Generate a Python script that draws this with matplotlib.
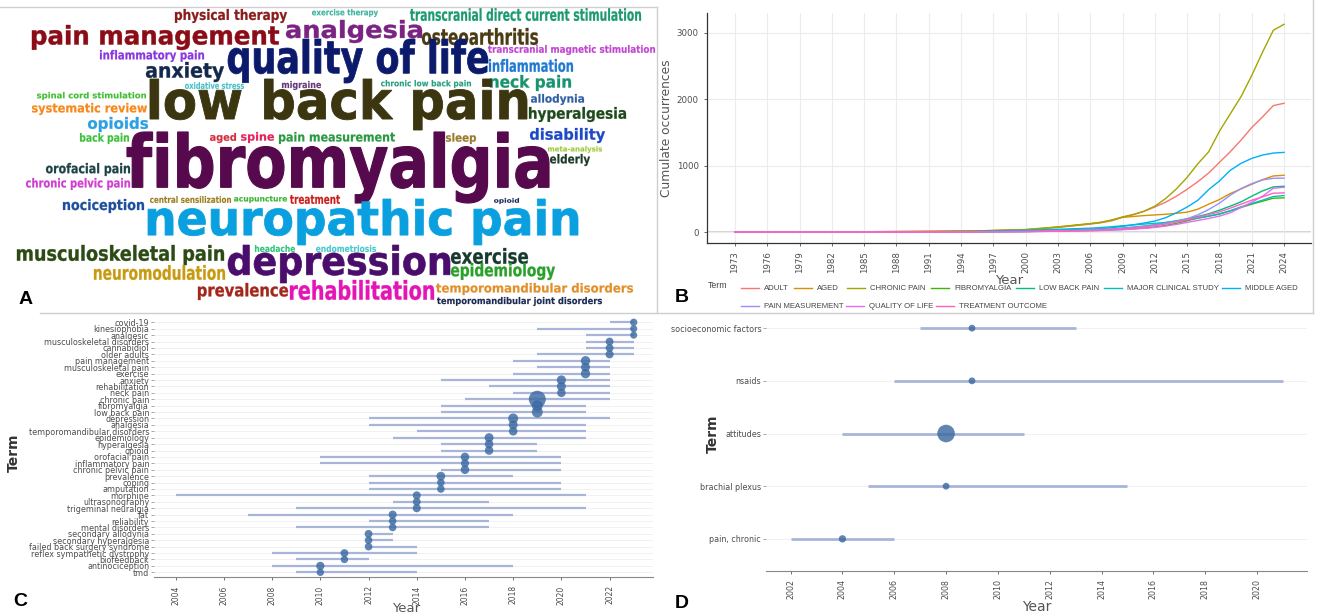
import matplotlib
matplotlib.use("Agg")
import matplotlib.pyplot as plt
from matplotlib.textpath import TextPath
from matplotlib.font_manager import FontProperties, fontManager
from matplotlib.path import Path
from matplotlib.patches import PathPatch

W, H = 1317, 616

# ---------------- data ----------------
# A: word cloud (words and colours)
cloud_words = [
    "physical therapy", "exercise therapy", "transcranial direct current stimulation",
    "pain management", "analgesia", "osteoarthritis", "inflammatory pain",
    "quality of life", "transcranial magnetic stimulation", "anxiety", "inflammation",
    "oxidative stress", "migraine", "chronic low back pain", "neck pain",
    "low back pain", "spinal cord stimulation", "systematic review", "allodynia",
    "hyperalgesia", "opioids", "back pain", "aged", "spine", "pain measurement",
    "sleep", "disability", "fibromyalgia", "meta-analysis", "elderly",
    "orofacial pain", "chronic pelvic pain", "nociception", "central sensilization",
    "acupuncture", "treatment", "opioid", "neuropathic pain", "headache",
    "endometriosis", "musculoskeletal pain", "depression", "exercise",
    "neuromodulation", "epidemiology", "prevalence", "rehabilitation",
    "temporomandibular disorders", "temporomandibular joint disorders",
]
cloud_colors = [
    "#8a1c1c", "#3cb4a0", "#1a9a70",
    "#8b0b16", "#7b2382", "#4a3b12", "#8a35e0",
    "#0c1a6b", "#c044d0", "#13294b", "#1f78d1",
    "#47c2c9", "#643a78", "#27a07f", "#17936e",
    "#3b3510", "#3fbe32", "#f5891c", "#2f5ea3",
    "#1d4a1a", "#2ba0e3", "#3cc13a", "#d32c3c", "#e3245e", "#2a9a42",
    "#9a7a2c", "#1d48c6", "#560a4d", "#9fc93a", "#1d3a29",
    "#1b4347", "#d13dd0", "#1d4f9e", "#9b7e1d",
    "#35b42f", "#cc1d1d", "#1b2d5e", "#0aa0e0", "#2bc47a",
    "#46c8cc", "#2c4a14", "#4a0d6b", "#173a2e",
    "#c89a10", "#2aa02a", "#a3261a", "#e514b4",
    "#e0902a", "#1b2a52",
]

# B: cumulative occurrences
b_years = [1973, 1980, 1985, 1990, 1995, 2000, 2003, 2006, 2007, 2008, 2009, 2010, 2011,
           2012, 2013, 2014, 2015, 2016, 2017, 2018, 2019, 2020, 2021, 2022, 2023, 2024]
b_terms = ["ADULT", "AGED", "CHRONIC PAIN", "FIBROMYALGIA", "LOW BACK PAIN",
           "MAJOR CLINICAL STUDY", "MIDDLE AGED", "PAIN MEASUREMENT",
           "QUALITY OF LIFE", "TREATMENT OUTCOME"]
adult = [0, 2, 4, 8, 14, 32, 70, 120, 140, 170, 225, 265, 312, 378, 450, 540, 645, 760, 890, 1050, 1210, 1385, 1575, 1735, 1905, 1940]
aged = [0, 2, 5, 9, 15, 36, 75, 125, 145, 180, 220, 235, 248, 258, 268, 282, 300, 345, 420, 490, 580, 650, 720, 790, 845, 855]
chronic_pain = [0, 2, 5, 9, 15, 38, 78, 128, 148, 182, 228, 262, 315, 390, 505, 650, 825, 1030, 1210, 1520, 1780, 2040, 2360, 2710, 3040, 3130]
fibromyalgia = [0, 0, 1, 2, 4, 8, 14, 22, 27, 33, 40, 50, 60, 75, 100, 130, 170, 210, 240, 270, 320, 370, 420, 465, 510, 515]
low_back_pain = [0, 0, 1, 2, 4, 10, 18, 30, 38, 47, 60, 75, 90, 110, 140, 170, 200, 235, 275, 330, 390, 455, 540, 620, 680, 690]
major_clinical = [0, 1, 2, 4, 8, 28, 42, 58, 68, 80, 95, 108, 120, 132, 145, 165, 185, 210, 240, 275, 320, 380, 430, 480, 535, 550]
middle_aged = [0, 1, 2, 4, 8, 20, 30, 45, 50, 65, 85, 110, 136, 166, 216, 290, 377, 480, 640, 770, 930, 1035, 1110, 1160, 1190, 1200]
pain_measure = [0, 0, 1, 2, 4, 10, 18, 30, 38, 46, 55, 70, 85, 105, 130, 160, 200, 260, 340, 435, 555, 655, 730, 785, 810, 812]
quality_life = [0, 0, 0, 1, 2, 6, 12, 20, 24, 29, 35, 45, 55, 70, 90, 115, 145, 175, 205, 240, 290, 370, 450, 540, 660, 675]
treatment_out = [0, 0, 1, 2, 3, 8, 16, 28, 32, 38, 45, 60, 75, 95, 120, 150, 185, 225, 265, 305, 360, 420, 480, 530, 585, 590]
b_values = [adult, aged, chronic_pain, fibromyalgia, low_back_pain, major_clinical,
            middle_aged, pain_measure, quality_life, treatment_out]
b_colors = ["#F8766D", "#D89000", "#A3A500", "#39B600", "#00BF7D",
            "#00BFC4", "#00B0F6", "#9590FF", "#E76BF3", "#FF62BC"]

# C: trend topics (top to bottom)
c_terms = ["covid-19", "kinesiophobia", "analgesic", "musculoskeletal disorders",
           "cannabidiol", "older adults", "pain management", "musculoskeletal pain",
           "exercise", "anxiety", "rehabilitation", "neck pain", "chronic pain",
           "fibromyalgia", "low back pain", "depression", "analgesia",
           "temporomandibular disorders", "epidemiology", "hyperalgesia", "opioid",
           "orofacial pain", "inflammatory pain", "chronic pelvic pain", "prevalence",
           "coping", "amputation", "morphine", "ultrasonography", "trigeminal neuralgia",
           "fat", "reliability", "mental disorders", "secondary allodynia",
           "secondary hyperalgesia", "failed back surgery syndrome",
           "reflex sympathetic dystrophy", "biofeedback", "antinociception", "tmd"]
c_q1 = [2022, 2019, 2021, 2021, 2021, 2019, 2018, 2019, 2018, 2015, 2017, 2018, 2016,
        2015, 2015, 2012, 2012, 2014, 2013, 2015, 2015, 2010, 2010, 2015, 2012,
        2012, 2012, 2004, 2013, 2009, 2007, 2012, 2009, 2012, 2012, 2012, 2008, 2009, 2008, 2009]
c_median = [2023, 2023, 2023, 2022, 2022, 2022, 2021, 2021, 2021, 2020, 2020, 2020, 2019,
            2019, 2019, 2018, 2018, 2018, 2017, 2017, 2017, 2016, 2016, 2016, 2015,
            2015, 2015, 2014, 2014, 2014, 2013, 2013, 2013, 2012, 2012, 2012, 2011, 2011, 2010, 2010]
c_q3 = [2023, 2023, 2023, 2023, 2023, 2023, 2022, 2022, 2022, 2022, 2022, 2022, 2022,
        2021, 2021, 2022, 2021, 2021, 2021, 2019, 2019, 2020, 2020, 2020, 2018,
        2020, 2020, 2021, 2017, 2021, 2018, 2017, 2017, 2013, 2013, 2014, 2014, 2012, 2018, 2014]
c_freq = [28, 26, 26, 32, 32, 34, 46, 42, 46, 44, 42, 38, 150,
          62, 62, 52, 42, 38, 42, 38, 38, 38, 34, 38, 40,
          30, 30, 34, 32, 34, 34, 30, 30, 32, 30, 30, 32, 28, 36, 28]

# D: trend topics (top to bottom)
d_terms = ["socioeconomic factors", "nsaids", "attitudes", "brachial plexus", "pain, chronic"]
d_q1 = [2007, 2006, 2004, 2005, 2002]
d_median = [2009, 2009, 2008, 2008, 2004]
d_q3 = [2013, 2021, 2011, 2015, 2006]
d_freq = [24, 24, 160, 24, 28]

# word cloud layout: pixel boxes (x0, top, x1, bottom) inside panel A
cloud_boxes = [
    (175, 9, 287, 23), (312, 9, 378, 17), (410, 8, 641, 21),
    (32, 25, 279, 50), (286, 20, 422, 43), (422, 28, 538, 45), (100, 50, 204, 62),
    (228, 39, 488, 83), (488, 45, 655, 55), (146, 62, 224, 82), (489, 59, 573, 72),
    (185, 82, 244, 89), (282, 81, 321, 90), (381, 80, 471, 88), (490, 75, 571, 91),
    (150, 79, 527, 130), (37, 92, 146, 100), (32, 103, 147, 115), (531, 94, 584, 105),
    (529, 107, 626, 122), (88, 117, 148, 132), (80, 133, 129, 144), (210, 133, 236, 143),
    (241, 132, 274, 143), (279, 132, 395, 144),
    (446, 133, 476, 144), (530, 128, 605, 143), (127, 132, 549, 203), (548, 146, 602, 153),
    (550, 154, 590, 166),
    (46, 163, 130, 176), (26, 178, 130, 190), (63, 199, 144, 213), (150, 196, 231, 203),
    (234, 196, 287, 203), (290, 195, 340, 204), (494, 198, 519, 204), (148, 199, 578, 245),
    (255, 245, 295, 252),
    (316, 245, 376, 252), (17, 245, 224, 265), (228, 245, 450, 283), (451, 248, 528, 264),
    (94, 265, 225, 280), (451, 263, 555, 280), (198, 283, 288, 300), (290, 280, 434, 300),
    (436, 283, 633, 295), (437, 297, 602, 306),
]


def frac(x0, y0, x1, y1):
    return [x0 / W, 1 - y1 / H, (x1 - x0) / W, (y1 - y0) / H]


fig = plt.figure(figsize=(W / 100, H / 100), dpi=100)
fig.patch.set_facecolor("white")

# ---------------- A: word cloud ----------------
axA = fig.add_axes(frac(0, 0, 657, 313))
axA.set_xlim(0, 657)
axA.set_ylim(313, 0)
axA.axis("off")

installed = {f.name for f in fontManager.ttflist}
cloud_family = "Liberation Sans Narrow" if "Liberation Sans Narrow" in installed else "DejaVu Sans"
cloud_font = FontProperties(family=cloud_family, weight="bold", stretch="condensed")

for word, color, (x0, y0, x1, y1) in zip(cloud_words, cloud_colors, cloud_boxes):
    tp = TextPath((0, 0), word, size=100, prop=cloud_font)
    ext = tp.get_extents()
    v = tp.vertices.copy()
    v[:, 0] = x0 + (v[:, 0] - ext.x0) * (x1 - x0) / ext.width
    v[:, 1] = y1 - (v[:, 1] - ext.y0) * (y1 - y0) / ext.height
    # thicker stroke on the big words, like the heavy word-cloud font
    stroke = 0.012 * (y1 - y0)
    axA.add_patch(PathPatch(Path(v, tp.codes), facecolor=color, edgecolor=color,
                            lw=stroke))

# ---------------- B: cumulative occurrences ----------------
axB = fig.add_axes(frac(707, 13, 1311, 243))
for vals, col in zip(b_values, b_colors):
    axB.plot(b_years, vals, color=col, lw=1.0)
axB.set_xlim(1970.4, 2026.5)
axB.set_ylim(-165, 3300)
axB.set_xticks(range(1973, 2025, 3))
axB.set_yticks([0, 1000, 2000, 3000])
axB.tick_params(axis="x", labelrotation=90)
axB.tick_params(labelsize=6.2, labelcolor="#4d4d4d", color="#4d4d4d", length=2.5, width=0.6)
axB.grid(color="#ececec", lw=0.8)
axB.axhline(0, color="#d4d4d4", lw=1.4, zorder=0.5)
axB.set_axisbelow(True)
for s in ["top", "right"]:
    axB.spines[s].set_visible(False)
for s in ["left", "bottom"]:
    axB.spines[s].set_color("#333333")
    axB.spines[s].set_linewidth(0.9)
axB.set_ylabel("Cumulate occurrences", fontsize=8.8, color="#555555", labelpad=3)

# ---------------- C: trend topics ----------------
axC = fig.add_axes(frac(154, 315, 653, 577))
n = len(c_terms)
yc = [n - i for i in range(n)]
axC.hlines(yc, c_q1, c_q3, color="#a9b5d8", lw=1.6, zorder=2)
axC.scatter(c_median, yc, s=c_freq, color="#3c6aa2", alpha=0.82, edgecolors="none", zorder=3)
axC.set_xlim(2003.1, 2023.8)
axC.set_ylim(0.27, 41.14)
axC.set_yticks(yc)
axC.set_yticklabels(c_terms)
axC.set_xticks(range(2004, 2023, 2))
axC.tick_params(axis="x", labelrotation=90, labelsize=5.5, labelcolor="#4d4d4d",
                color="#555555", length=2.5, width=0.6)
axC.tick_params(axis="y", labelsize=5.8, labelcolor="#4d4d4d", color="#999999",
                length=2.5, width=0.6, pad=1)
for y in yc:
    axC.axhline(y, color="#efefef", lw=0.6, zorder=1)
for s in ["top", "right", "left"]:
    axC.spines[s].set_visible(False)
axC.spines["bottom"].set_color("#888888")
axC.spines["bottom"].set_linewidth(0.8)

# ---------------- D: trend topics ----------------
axD = fig.add_axes(frac(766, 315, 1307, 571))
m = len(d_terms)
yd = [m - i for i in range(m)]
axD.hlines(yd, d_q1, d_q3, color="#a9b5d8", lw=2.0, zorder=2)
axD.scatter(d_median, yd, s=d_freq, color="#3c6aa2", alpha=0.82, edgecolors="none", zorder=3)
axD.set_xlim(2001.05, 2021.93)
axD.set_ylim(0.39, 5.25)
axD.set_yticks(yd)
axD.set_yticklabels(d_terms)
axD.set_xticks(range(2002, 2021, 2))
axD.tick_params(axis="x", labelrotation=90, labelsize=5.7, labelcolor="#4d4d4d",
                color="#555555", length=2.5, width=0.6)
axD.tick_params(axis="y", labelsize=5.8, labelcolor="#4d4d4d", color="#999999",
                length=2.5, width=0.6, pad=1)
for y in yd:
    axD.axhline(y, color="#efefef", lw=0.6, zorder=1)
for s in ["top", "right", "left"]:
    axD.spines[s].set_visible(False)
axD.spines["bottom"].set_color("#888888")
axD.spines["bottom"].set_linewidth(0.8)

# ---------------- overlay: frames, labels, legend ----------------
ov = fig.add_axes([0, 0, 1, 1], zorder=10)
ov.set_xlim(0, W)
ov.set_ylim(H, 0)
ov.axis("off")

frame = dict(color="#cfcfcf", lw=1.0)
ov.plot([0, 657], [7, 7], **frame)
ov.plot([657, 657], [7, 313], **frame)
ov.plot([1313, 1313], [0, 313], **frame)
ov.plot([40, 1313], [313, 313], **frame)

panel_font = dict(fontsize=14, fontweight="bold", family="Liberation Sans",
                  ha="center", va="center", color="black")
ov.text(26, 300, "A", **panel_font)
ov.text(682, 298, "B", **panel_font)
ov.text(20, 602, "C", **panel_font)
ov.text(682, 604, "D", **panel_font)

ov.text(1009, 280, "Year", fontsize=9.5, color="#555555", ha="center", va="center")
ov.text(406, 609, "Year", fontsize=9.5, color="#555555", ha="center", va="center")
ov.text(1037, 607, "Year", fontsize=10, color="#555555", ha="center", va="center")
ov.text(14, 453, "Term", fontsize=10, fontweight="bold", color="#333333",
        rotation=90, ha="center", va="center")
ov.text(713, 434, "Term", fontsize=10, fontweight="bold", color="#333333",
        rotation=90, ha="center", va="center")

# legend for B (ggplot-style wrapped layout)
ov.text(708, 286, "Term", fontsize=6.3, color="#444444", ha="left", va="center",
        family="Liberation Sans")
legend_slots = [(741, 288), (794, 288), (847, 288), (931, 288), (1016, 288), (1104, 288),
                (1222, 288), (741, 306), (846, 306), (936, 306)]
for name, col, (lx, ly) in zip(b_terms, b_colors, legend_slots):
    ov.plot([lx, lx + 18], [ly, ly], color=col, lw=1.0)
    ov.text(lx + 23, ly, name, fontsize=5.6, color="#444444", ha="left", va="center",
            family="Liberation Sans")

fig.savefig("out.png", dpi=100)
